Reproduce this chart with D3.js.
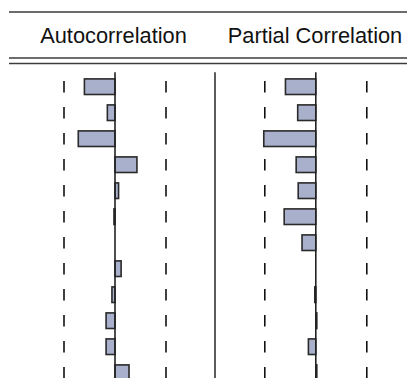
<!DOCTYPE html>
<html>
<head>
<meta charset="utf-8">
<script src="https://cdn.jsdelivr.net/npm/d3@7"></script>
<style>
html,body{margin:0;padding:0;background:#fff;overflow:hidden;}
svg{display:block;}
</style>
</head>
<body>
<svg id="chart" width="407" height="378"></svg>
<script>
// ---- data ----
const lags = [1,2,3,4,5,6,7,8,9,10,11,12];
const acf  = [-0.120,-0.030,-0.144,0.086,0.014,-0.004,0.000,0.024,-0.012,-0.035,-0.035,0.055];
const pacf = [-0.119,-0.071,-0.204,-0.077,-0.069,-0.124,-0.054,0.000,-0.004,0.004,-0.029,0.004];
const bound = 0.2; // +/- 2/sqrt(T)
const headers = ["Autocorrelation","Partial Correlation"];

const svg = d3.select("#chart");
const W = 407, H = 378;

// row scale
const y = d3.scaleBand().domain(lags).range([73.7, 385.7]).paddingInner(0.4).paddingOuter(0.2);

const panels = [
  {title: headers[0], tx: -1.5, values: acf,  x: d3.scaleLinear().domain([-1,1]).range([115 - 255, 115 + 255])},
  {title: headers[1], tx: -0.8, values: pacf, x: d3.scaleLinear().domain([-1,1]).range([315.8 - 255, 315.8 + 255])}
];

// header rules
const ruleColor = "#3c3c3c";
[12, 58, 63.5].forEach(yy => {
  svg.append("line").attr("x1", 9).attr("x2", W).attr("y1", yy).attr("y2", yy)
    .attr("stroke", ruleColor).attr("stroke-width", 1.6);
});

// column separator
svg.append("line").attr("x1", 215).attr("x2", 215).attr("y1", 72.3).attr("y2", H)
  .attr("stroke", "#333").attr("stroke-width", 1.6);

panels.forEach(p => {
  const g = svg.append("g");
  g.append("text")
    .attr("x", p.x(0) + p.tx).attr("y", 43.3)
    .attr("text-anchor", "middle")
    .attr("font-family", "Liberation Sans, Arial, sans-serif")
    .attr("font-size", 21.8)
    .attr("fill", "#111")
    .text(p.title);

  // dashed confidence bounds, one dash per row
  [-bound, bound].forEach(b => {
    g.selectAll(null).data(lags).enter().append("line")
      .attr("x1", p.x(b)).attr("x2", p.x(b))
      .attr("y1", d => y(d) + y.bandwidth()/2 - 5.7)
      .attr("y2", d => y(d) + y.bandwidth()/2 + 5.7)
      .attr("stroke", "#111").attr("stroke-width", 1.6);
  });

  // bars
  g.selectAll(null).data(lags.map((l,i) => ({lag:l, v:p.values[i]}))).enter()
    .filter(d => d.v !== 0)
    .append("rect")
    .attr("x", d => Math.min(p.x(0), p.x(d.v)))
    .attr("width", d => Math.abs(p.x(d.v) - p.x(0)))
    .attr("y", d => y(d.lag))
    .attr("height", y.bandwidth())
    .attr("fill", "#a9b0cb")
    .attr("stroke", "#2a2a2a").attr("stroke-width", 1.6);

  // zero line
  g.append("line").attr("x1", p.x(0)).attr("x2", p.x(0)).attr("y1", 72.3).attr("y2", H)
    .attr("stroke", "#222").attr("stroke-width", 1.6);
});
</script>
</body>
</html>
